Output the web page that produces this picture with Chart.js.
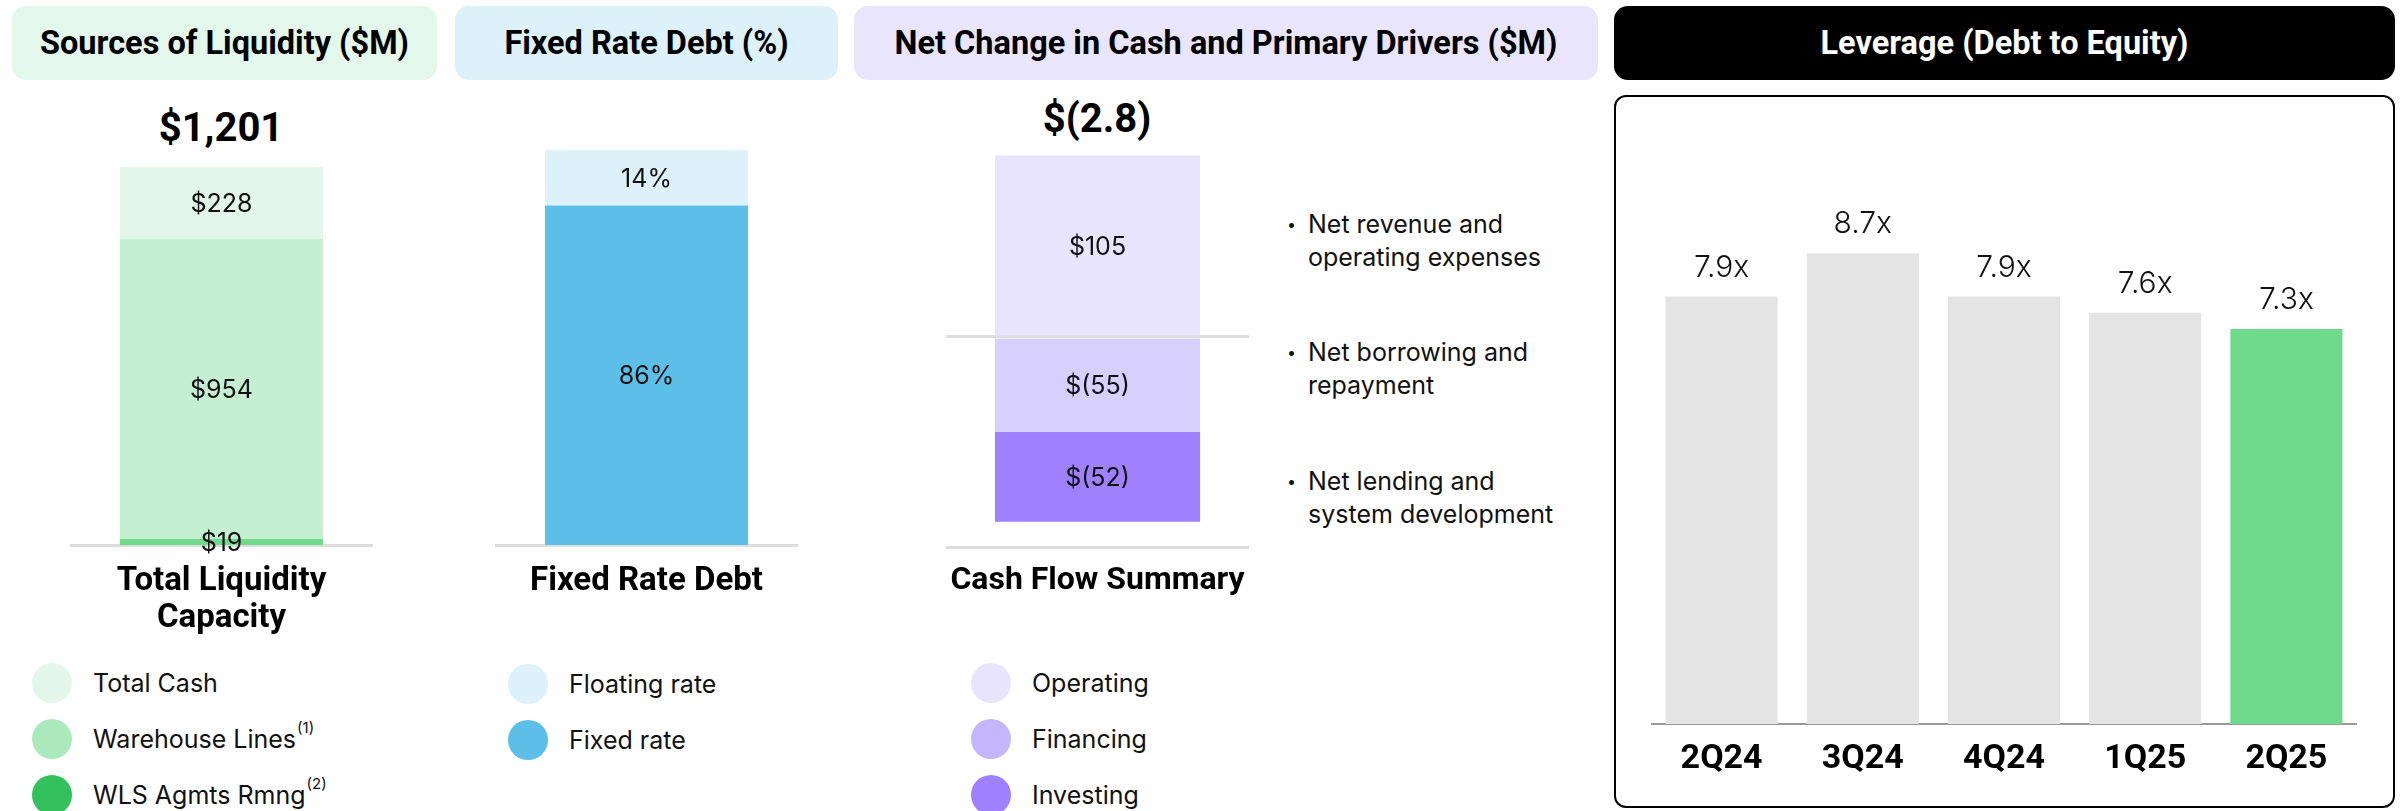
<!DOCTYPE html>
<html>
<head>
<meta charset="utf-8">
<script src="https://cdn.jsdelivr.net/npm/chart.js@4.4.1/dist/chart.umd.min.js"></script>
<style>
  body { margin: 0; width: 2403px; height: 811px; background: #fff; position: relative; overflow: hidden; font-family: Inter, "Noto Sans", sans-serif; color: #111; }
  .hdr { position: absolute; top: 6px; height: 74px; border-radius: 14px; display: flex; align-items: center; justify-content: center; font-family: Roboto, sans-serif; font-weight: 700; font-size: 32.5px; color: #000; }
  .hdr span { display: inline-block; }
  canvas { position: absolute; }
  .big { position: absolute; width: 300px; margin-left: -150px; text-align: center; font-family: Roboto, sans-serif; font-weight: 700; font-size: 40px; line-height: 50px; color: #000; }
  .legend { position: absolute; font-size: 25px; }
  .legend .row { height: 56px; display: flex; align-items: center; }
  .legend .dot { width: 40px; height: 40px; border-radius: 50%; margin-right: 21px; flex: none; }
  .legend sup { font-size: 15px; vertical-align: baseline; position: relative; top: -12px; margin-left: 1px; }
  .notes { position: absolute; left: 1287px; font-size: 25px; line-height: 33px; }
  .note { position: absolute; white-space: nowrap; padding-left: 21px; }
  .note:before { content: "\2022"; position: absolute; left: 0; font-size: 16px; }
  .box { position: absolute; left: 1614px; top: 95px; width: 781px; height: 713px; box-sizing: border-box; border: 2.5px solid #000; border-radius: 12px; }
</style>
</head>
<body>
<div class="hdr" style="left:12px;width:425px;background:#E3F7EA"><span>Sources of Liquidity ($M)</span></div>
<div class="hdr" style="left:455px;width:383px;background:#DDF1FA"><span>Fixed Rate Debt (%)</span></div>
<div class="hdr" style="left:854px;width:744px;background:#E9E5FD"><span>Net Change in Cash and Primary Drivers ($M)</span></div>
<div class="hdr" style="left:1614px;width:781px;background:#000;color:#fff"><span>Leverage (Debt to Equity)</span></div>

<div class="big" id="liqTotal" style="left:221px;top:103px"></div>
<div class="big" id="cashTotal" style="left:1097px;top:94px"></div>

<canvas id="liq" width="303" height="545" style="left:70px;top:100px"></canvas>
<canvas id="rate" width="303" height="545" style="left:495px;top:100px"></canvas>
<canvas id="cash" width="303" height="547" style="left:946px;top:100px"></canvas>

<div class="legend" id="liqLegend" style="left:32px;top:655px"></div>
<div class="legend" id="rateLegend" style="left:508px;top:656px"></div>
<div class="legend" id="cashLegend" style="left:971px;top:655px"></div>

<div class="notes" id="notes"></div>

<div class="box"></div>
<canvas id="lev" width="706" height="644" style="left:1651px;top:150px"></canvas>

<script>
// Sources of liquidity ($M), top to bottom of the stack
var liqLabels = ['Total Cash', 'Warehouse Lines', 'WLS Agmts Rmng'];
var liqNotes = ['', '(1)', '(2)'];
var liqValues = [228, 954, 19];
var liqBarColors = ['#E2F7E9', '#C4EFD1', '#6FD98C'];
var liqDotColors = ['#E2F7E9', '#A9E9BC', '#33C15B'];

// Fixed rate debt (%), top to bottom
var rateLabels = ['Floating rate', 'Fixed rate'];
var rateValues = [14, 86];
var rateColors = ['#DDF1FA', '#5CBFE8'];

// Cash flow summary ($M)
var cashLabels = ['Operating', 'Financing', 'Investing'];
var cashValues = [105, -55, -52];
var cashBarColors = ['#E9E4FE', '#D7CFFE', '#9F80FE'];
var cashDotColors = ['#E9E4FE', '#C3B6FD', '#9F80FE'];
var netChange = -2.8;
var cashNotes = [
  ['Net revenue and', 'operating expenses'],
  ['Net borrowing and', 'repayment'],
  ['Net lending and', 'system development']
];

// Leverage (debt to equity)
var levQuarters = ['2Q24', '3Q24', '4Q24', '1Q25', '2Q25'];
var levValues = [7.9, 8.7, 7.9, 7.6, 7.3];
var levColors = ['#E4E4E4', '#E4E4E4', '#E4E4E4', '#E4E4E4', '#6FD98C'];

function money(v) {
  return v < 0 ? '$(' + Math.abs(v) + ')' : '$' + v.toLocaleString('en-US');
}

// draws each bar's value, either centred in the segment or above the bar
function valueLabels(fmt, font, above) {
  return {
    id: 'valueLabels',
    afterDatasetsDraw: function(chart) {
      var ctx = chart.ctx;
      ctx.save();
      ctx.font = font;
      ctx.fillStyle = '#111';
      ctx.textAlign = 'center';
      ctx.textBaseline = 'alphabetic';
      chart.data.datasets.forEach(function(ds, i) {
        chart.getDatasetMeta(i).data.forEach(function(bar, j) {
          var txt = fmt(ds.data[j]);
          if (above) {
            ctx.fillText(txt, bar.x, bar.y - 20);
          } else {
            ctx.fillText(txt, bar.x, (bar.y + bar.base) / 2 + 9);
          }
        });
      });
      ctx.restore();
    }
  };
}

function legend(id, labels, colors, notes) {
  var html = '';
  labels.forEach(function(l, i) {
    html += '<div class="row"><div class="dot" style="background:' + colors[i] + '"></div>' + l +
      (notes && notes[i] ? '<sup>' + notes[i] + '</sup>' : '') + '</div>';
  });
  document.getElementById(id).innerHTML = html;
}

var segFont = '25px Inter';

function baseX(size, pad) {
  return {
    stacked: true,
    grid: { display: false, drawTicks: false },
    border: { display: true, color: '#DDDDDD', width: 3 },
    ticks: { color: '#000', font: { family: 'Roboto', weight: 'bold', size: size, lineHeight: 1.12 }, padding: pad },
    afterFit: function(s) { s.height = 100; s.paddingLeft = 0; s.paddingRight = 0; }
  };
}

var common = {
  responsive: false,
  animation: false,
  layout: { padding: 0 },
  plugins: { legend: { display: false }, tooltip: { enabled: false } }
};

// Sources of liquidity: bottom of the stack first
var liqSets = [];
for (var i = liqValues.length - 1; i >= 0; i--) {
  liqSets.push({ label: liqLabels[i], data: [liqValues[i]], backgroundColor: liqBarColors[i],
    borderWidth: 0, barPercentage: 0.67, categoryPercentage: 1 });
}
new Chart(document.getElementById('liq'), {
  type: 'bar',
  data: { labels: [['Total Liquidity', 'Capacity']], datasets: liqSets },
  options: Object.assign({}, common, {
    scales: {
      x: baseX(33, 18),
      y: { stacked: true, display: false, min: 0, max: 1414 }
    }
  }),
  plugins: [valueLabels(money, segFont, false)]
});
var liqSum = liqValues.reduce(function(a, b) { return a + b; }, 0);
document.getElementById('liqTotal').textContent = money(liqSum);

// Fixed rate debt
var rateSets = [];
for (var i = rateValues.length - 1; i >= 0; i--) {
  rateSets.push({ label: rateLabels[i], data: [rateValues[i]], backgroundColor: rateColors[i],
    borderWidth: 0, barPercentage: 0.67, categoryPercentage: 1 });
}
new Chart(document.getElementById('rate'), {
  type: 'bar',
  data: { labels: ['Fixed Rate Debt'], datasets: rateSets },
  options: Object.assign({}, common, {
    scales: {
      x: baseX(33, 18),
      y: { stacked: true, display: false, min: 0, max: 112.7 }
    }
  }),
  plugins: [valueLabels(function(v) { return v + '%'; }, segFont, false)]
});

// Cash flow summary: positives stack up from zero, negatives down
var cashSets = cashValues.map(function(v, i) {
  return { label: cashLabels[i], data: [v], backgroundColor: cashBarColors[i],
    borderWidth: 0, barPercentage: 0.677, categoryPercentage: 1 };
});
new Chart(document.getElementById('cash'), {
  type: 'bar',
  data: { labels: ['Cash Flow Summary'], datasets: cashSets },
  options: Object.assign({}, common, {
    scales: {
      x: baseX(32, 16),
      y: {
        stacked: true, min: -121.6, max: 137.2, z: 1,
        ticks: { display: false },
        grid: { drawTicks: false, color: '#DDDDDD', lineWidth: 3 },
        border: { display: false },
        afterBuildTicks: function(s) { s.ticks = [{ value: 0 }]; }
      }
    }
  }),
  plugins: [valueLabels(money, segFont, false)]
});
document.getElementById('cashTotal').textContent = '$(' + Math.abs(netChange).toFixed(1) + ')';

// Leverage
new Chart(document.getElementById('lev'), {
  type: 'bar',
  data: {
    labels: levQuarters,
    datasets: [{ label: 'Leverage', data: levValues, backgroundColor: levColors,
      borderWidth: 0, barPercentage: 0.794, categoryPercentage: 1 }]
  },
  options: Object.assign({}, common, {
    scales: {
      x: {
        grid: { display: false, drawTicks: false },
        border: { display: true, color: '#9A9A9A', width: 2 },
        ticks: { color: '#000', font: { family: 'Roboto', weight: 'bold', size: 34, lineHeight: 1.2 }, padding: 15 },
        afterFit: function(s) { s.height = 70; s.paddingLeft = 0; s.paddingRight = 0; }
      },
      y: { display: false, min: 0, max: 10.61 }
    }
  }),
  plugins: [valueLabels(function(v) { return v.toFixed(1) + 'x'; }, '300 30px Inter', true)]
});

legend('liqLegend', liqLabels, liqDotColors, liqNotes);
legend('rateLegend', rateLabels, rateColors);
legend('cashLegend', cashLabels, cashDotColors);

var noteTops = [208, 336, 465];
var notesHtml = '';
cashNotes.forEach(function(n, i) {
  notesHtml += '<div class="note" style="top:' + noteTops[i] + 'px">' + n.join('<br>') + '</div>';
});
document.getElementById('notes').innerHTML = notesHtml;
</script>
</body>
</html>
